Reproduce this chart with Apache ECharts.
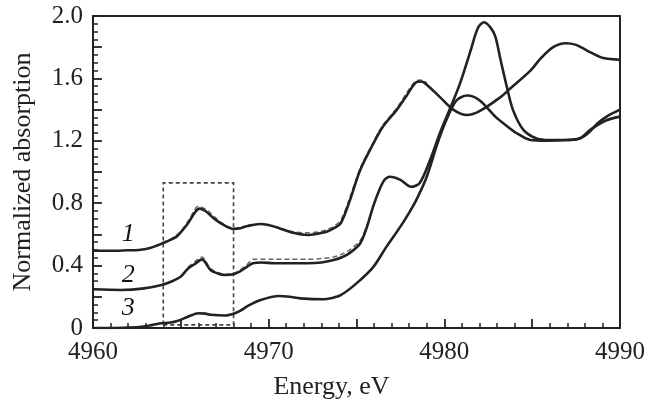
<!DOCTYPE html>
<html>
<head>
<meta charset="utf-8">
<script src="https://cdn.jsdelivr.net/npm/echarts@6/dist/echarts.min.js"></script>
<style>
  html, body { margin: 0; background: #fff; }
  #chart { width: 651px; height: 400px; }
</style>
</head>
<body>
<div id="chart"></div>
<script>
// curve 1 (top), energies and normalized absorption
var e1 = [4960, 4961, 4962, 4962.6, 4963.3, 4963.9, 4964.5, 4964.8, 4965.4, 4965.8, 4966.05, 4966.4, 4966.9, 4967.3, 4968.0, 4968.4, 4968.8, 4969.5, 4970.0, 4970.6, 4971.4, 4972.2, 4972.8, 4973.3, 4973.8, 4974.1, 4974.6, 4975.2, 4975.95, 4976.5, 4977.3, 4977.8, 4978.4, 4978.7, 4979.0, 4979.75, 4980.5, 4981.3, 4982.0, 4983.2, 4983.7, 4984.9, 4985.5, 4986.2, 4986.9, 4987.5, 4988.1, 4989.05, 4990];
var a1 = [0.495, 0.495, 0.498, 0.50, 0.515, 0.54, 0.57, 0.59, 0.67, 0.74, 0.765, 0.75, 0.70, 0.67, 0.635, 0.64, 0.654, 0.667, 0.66, 0.64, 0.61, 0.596, 0.605, 0.617, 0.645, 0.67, 0.81, 1.01, 1.18, 1.29, 1.40, 1.48, 1.575, 1.58, 1.56, 1.48, 1.40, 1.365, 1.39, 1.48, 1.53, 1.65, 1.73, 1.80, 1.825, 1.815, 1.78, 1.73, 1.72];

// curve 2 (middle)
var e2 = [4960, 4961.6, 4962.9, 4963.9, 4964.5, 4965.0, 4965.4, 4965.8, 4966.2, 4966.7, 4967.1, 4967.5, 4968.0, 4968.4, 4968.8, 4969.1, 4969.6, 4970.3, 4971.2, 4972.2, 4973.0, 4973.7, 4974.2, 4974.6, 4975.2, 4975.6, 4975.95, 4976.3, 4976.6, 4976.9, 4977.5, 4978.1, 4978.6, 4979.2, 4979.75, 4980.3, 4980.9, 4981.5, 4981.9, 4982.25, 4982.6, 4982.9, 4983.2, 4983.55, 4983.9, 4984.5, 4985.25, 4986.0, 4986.75, 4987.7, 4988.2, 4988.7, 4989.3, 4990];
var a2 = [0.248, 0.244, 0.254, 0.276, 0.30, 0.33, 0.38, 0.41, 0.44, 0.37, 0.35, 0.34, 0.345, 0.365, 0.395, 0.415, 0.42, 0.415, 0.415, 0.415, 0.42, 0.436, 0.455, 0.48, 0.54, 0.65, 0.78, 0.885, 0.95, 0.97, 0.95, 0.905, 0.93, 1.08, 1.25, 1.40, 1.57, 1.78, 1.92, 1.96, 1.93, 1.87, 1.72, 1.55, 1.40, 1.27, 1.215, 1.205, 1.205, 1.215, 1.25, 1.31, 1.36, 1.40];

// curve 3 (bottom)
var e3 = [4960, 4961, 4962, 4962.75, 4963.4, 4963.9, 4964.4, 4964.8, 4965.4, 4966.0, 4966.4, 4966.7, 4967.5, 4968.0, 4968.4, 4968.8, 4969.5, 4970.6, 4971.2, 4971.8, 4973.1, 4973.6, 4974.1, 4975.0, 4975.95, 4976.7, 4977.5, 4978.0, 4978.4, 4979.0, 4979.6, 4980.1, 4980.7, 4981.3, 4982.0, 4982.9, 4983.5, 4984.1, 4984.9, 4985.8, 4987.0, 4987.7, 4988.3, 4989.2, 4990];
var a3 = [0.0, 0.0, 0.003, 0.008, 0.02, 0.03, 0.035, 0.045, 0.072, 0.095, 0.092, 0.085, 0.08, 0.092, 0.112, 0.14, 0.178, 0.205, 0.20, 0.19, 0.184, 0.192, 0.21, 0.286, 0.39, 0.52, 0.65, 0.74, 0.82, 0.97, 1.18, 1.33, 1.46, 1.49, 1.46, 1.355, 1.30, 1.25, 1.205, 1.20, 1.205, 1.215, 1.27, 1.33, 1.355];

// dashed (second spectrum) where it separates from the solid ones
var d1e = [4963.5, 4964.5, 4965.0, 4965.5, 4966.0, 4966.5, 4967.3, 4968.0, 4968.8, 4969.5, 4970.6, 4971.5, 4972.2, 4973.0, 4973.6, 4974.1, 4974.6, 4975.2, 4975.95, 4976.5, 4977.3, 4978.4, 4978.7, 4979.0];
var d1a = [0.525, 0.575, 0.62, 0.70, 0.78, 0.755, 0.675, 0.64, 0.655, 0.665, 0.64, 0.615, 0.61, 0.62, 0.645, 0.69, 0.83, 1.02, 1.19, 1.30, 1.41, 1.585, 1.59, 1.57];
var d2e = [4965.4, 4965.8, 4966.2, 4966.7, 4967.5, 4968.0, 4968.4, 4968.8, 4969.1, 4970.3, 4971.2, 4972.2, 4973.0, 4973.7, 4974.2, 4974.6, 4975.2, 4975.6, 4976.0];
var d2a = [0.39, 0.425, 0.455, 0.38, 0.345, 0.35, 0.375, 0.41, 0.44, 0.44, 0.44, 0.44, 0.445, 0.455, 0.475, 0.50, 0.56, 0.66, 0.79];

// curve numbers
var tagE = [4962, 4962, 4962];
var tagV = [0.60, 0.34, 0.13];
var tagText = ['1', '2', '3'];

// dashed box round the pre-edge
var boxE = [4964, 4968];
var boxV = [0.02, 0.93];

var ink = '#222';
var serif = '"Liberation Serif", "DejaVu Serif", serif';

function pairs(xs, ys) {
  return xs.map(function (x, i) { return [x, ys[i]]; });
}

function solid(xs, ys) {
  return {
    type: 'line', data: pairs(xs, ys), smooth: 0.3, symbol: 'none', z: 3,
    lineStyle: { color: ink, width: 2.6 }
  };
}

function dashed(xs, ys) {
  return {
    type: 'line', data: pairs(xs, ys), smooth: 0.3, symbol: 'none', z: 2,
    lineStyle: { color: '#666', width: 1.5, type: [5, 3] }
  };
}

// plain frame axis for the top / right edges
function frame(base) {
  base.axisLine = { show: true, onZero: false, lineStyle: { color: ink, width: 2 } };
  base.axisTick = { show: false };
  base.axisLabel = { show: false };
  base.splitLine = { show: false };
  return base;
}

var chart = echarts.init(document.getElementById('chart'));

var s1 = solid(e1, a1);
s1.markArea = {
  silent: true,
  itemStyle: { color: 'rgba(0,0,0,0)', borderColor: '#444', borderWidth: 1.6, borderType: [4, 3] },
  data: [[{ coord: [boxE[0], boxV[0]] }, { coord: [boxE[1], boxV[1]] }]]
};

chart.setOption({
  animation: false,
  grid: { left: 93, right: 31, top: 16, bottom: 72, outerBoundsMode: 'none' },
  xAxis: [{
    type: 'value', min: 4960, max: 4990, interval: 5, position: 'bottom',
    name: 'Energy, eV', nameLocation: 'middle', nameGap: 46,
    nameTextStyle: { fontFamily: serif, fontSize: 26, color: ink, padding: [0, 50, 0, 0] },
    axisLine: { show: true, onZero: false, lineStyle: { color: ink, width: 2 } },
    axisTick: { show: true, inside: true, length: 9, lineStyle: { color: ink, width: 1.8 } },
    minorTick: { show: true, splitNumber: 5, length: 5, lineStyle: { color: ink, width: 1.5 } },
    splitLine: { show: false },
    axisLabel: {
      margin: 12, fontFamily: serif, fontSize: 25, color: ink,
      formatter: function (v) { return v % 10 === 0 ? String(v) : ''; }
    }
  }, frame({ type: 'value', min: 4960, max: 4990, position: 'top' })],
  yAxis: [{
    type: 'value', min: 0, max: 2.0, interval: 0.2, position: 'left',
    name: 'Normalized absorption', nameLocation: 'middle', nameGap: 57,
    nameTextStyle: { fontFamily: serif, fontSize: 26, color: ink },
    axisLine: { show: true, onZero: false, lineStyle: { color: ink, width: 2 } },
    axisTick: { show: true, inside: true, length: 9, lineStyle: { color: ink, width: 1.8 } },
    minorTick: { show: true, splitNumber: 4, length: 5, lineStyle: { color: ink, width: 1.5 } },
    splitLine: { show: false },
    axisLabel: {
      margin: 10, fontFamily: serif, fontSize: 25, color: ink,
      formatter: function (v) {
        var t = Math.round(v * 10);
        if (t % 4 !== 0) return '';
        return t === 0 ? '0' : (t / 10).toFixed(1);
      }
    }
  }, frame({ type: 'value', min: 0, max: 2.0, position: 'right' })],
  series: [
    dashed(d1e, d1a),
    dashed(d2e, d2a),
    s1,
    solid(e2, a2),
    solid(e3, a3),
    {
      type: 'scatter', symbolSize: 0, z: 4,
      itemStyle: { opacity: 1 },
      data: pairs(tagE, tagV),
      label: {
        show: true, position: 'inside', fontFamily: serif, fontStyle: 'italic',
        fontSize: 26, color: '#111', opacity: 1,
        formatter: function (p) { return tagText[p.dataIndex]; }
      }
    }
  ]
});
</script>
</body>
</html>
